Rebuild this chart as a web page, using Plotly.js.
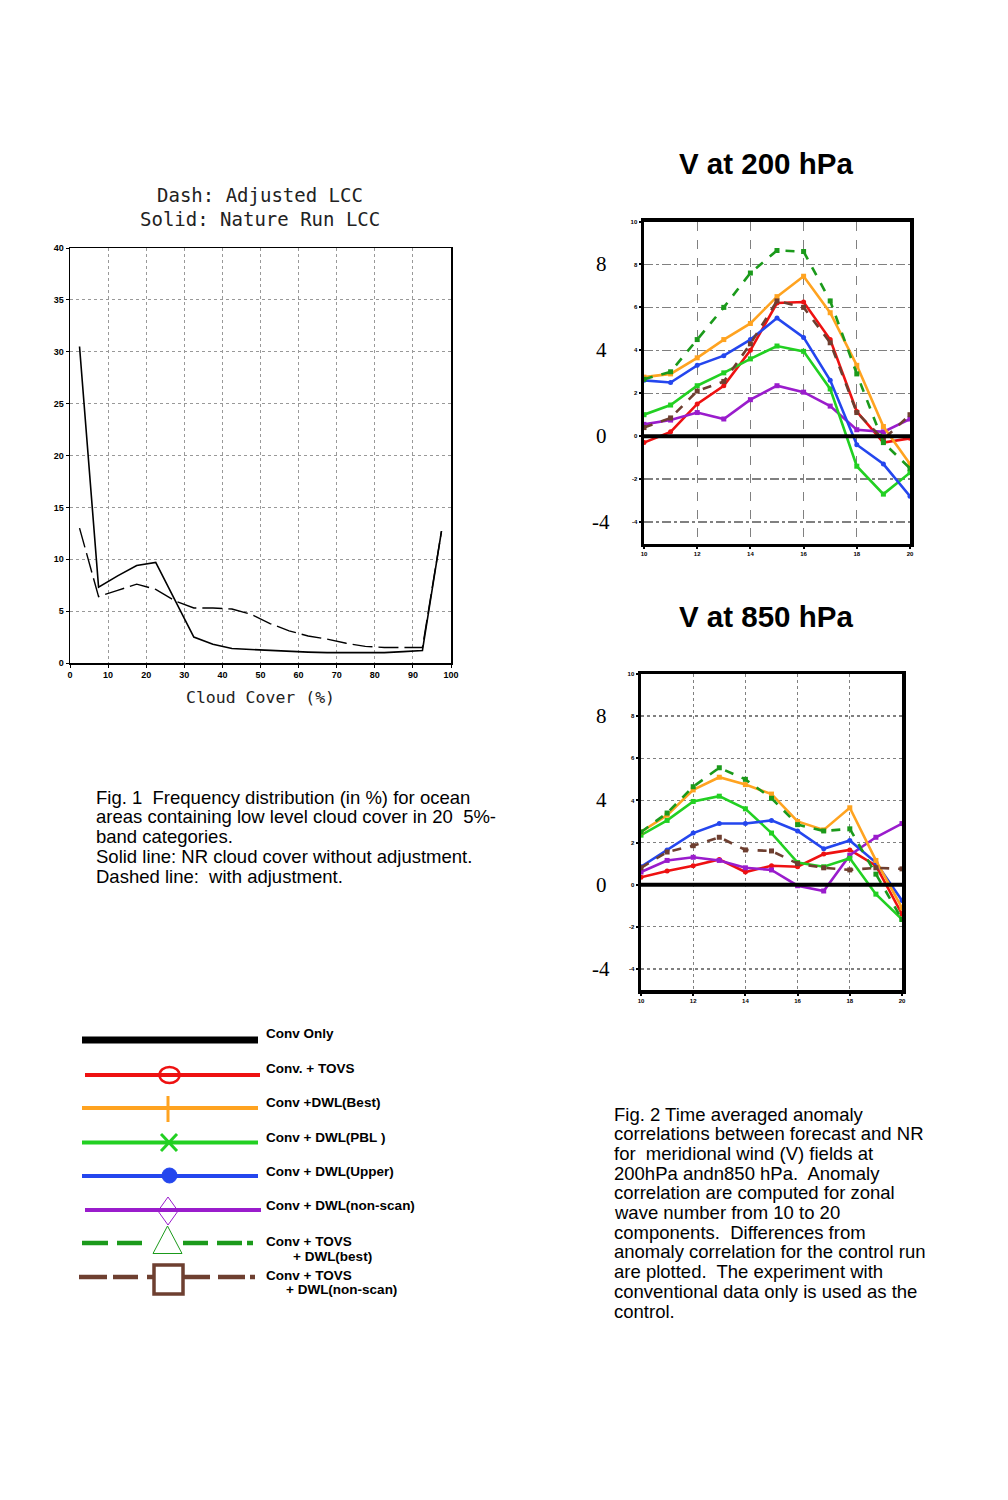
<!DOCTYPE html>
<html><head><meta charset="utf-8">
<script src="https://cdn.plot.ly/plotly-3.0.1.min.js"></script>
<style>html,body{margin:0;padding:0;background:#fff}#chart{width:1008px;height:1500px}</style>
</head><body><div id="chart"></div>
<script>
// ---------- Fig. 1 data ----------
const cloudBins = [2.5,7.5,12.5,17.5,22.5,27.5,32.5,37.5,42.5,47.5,52.5,57.5,62.5,67.5,72.5,77.5,82.5,87.5,92.5,97.5];
const natureRunLcc = [30.5,7.3,8.4,9.4,9.7,6.1,2.5,1.8,1.4,1.3,1.2,1.1,1.05,1.0,1.0,0.95,1.0,1.1,1.2,12.7];
const adjustedLcc  = [13.0,6.4,7.0,7.6,7.1,6.0,5.3,5.3,5.2,4.7,3.8,3.1,2.6,2.3,1.9,1.6,1.5,1.5,1.5,12.7];
const cloudTicks = [0,10,20,30,40,50,60,70,80,90,100];
const freqTicks = [0,5,10,15,20,25,30,35,40];

// ---------- Fig. 2 data ----------
const waveNumbers = [10,11,12,13,14,15,16,17,18,19,20];
const waveTicks = [10,12,14,16,18,20];
const corrTicks = [-4,-2,0,2,4,6,8,10];
const corrBigLabels = [8,4,0,-4];

const convOnly200       = [0,0,0,0,0,0,0,0,0,0,0];
const tovs200           = [-0.3,0.2,1.5,2.35,4.0,6.2,6.25,4.5,1.15,-0.3,-0.1];
const dwlBest200        = [2.75,2.9,3.65,4.5,5.25,6.5,7.45,5.75,3.3,0.45,-1.3];
const dwlPbl200         = [1.0,1.45,2.35,2.95,3.6,4.2,3.95,2.2,-1.4,-2.7,-1.7];
const dwlUpper200       = [2.6,2.5,3.3,3.75,4.5,5.5,4.6,2.6,-0.4,-1.3,-2.8];
const dwlNonscan200     = [0.55,0.75,1.1,0.8,1.7,2.35,2.05,1.4,0.3,0.2,0.8];
const tovsDwlBest200    = [2.65,3.0,4.5,6.0,7.6,8.65,8.6,6.3,2.9,-0.3,-1.5];
const tovsDwlNonscan200 = [0.4,0.85,2.1,2.55,4.3,6.3,6.0,4.35,1.1,-0.15,1.0];

const convOnly850       = [0,0,0,0,0,0,0,0,0,0,0];
const tovs850           = [0.35,0.65,0.9,1.2,0.6,0.9,0.85,1.45,1.65,0.9,-1.4];
const dwlBest850        = [2.5,3.3,4.5,5.1,4.75,4.3,3.0,2.6,3.65,1.15,-1.1];
const dwlPbl850         = [2.35,3.05,3.95,4.2,3.6,2.45,1.05,0.85,1.25,-0.45,-1.65];
const dwlUpper850       = [0.85,1.65,2.45,2.9,2.9,3.05,2.55,1.7,2.1,1.05,-0.75];
const dwlNonscan850     = [0.6,1.15,1.3,1.15,0.8,0.7,-0.05,-0.3,1.4,2.25,2.9];
const tovsDwlBest850    = [2.5,3.4,4.65,5.55,5.0,4.1,2.85,2.55,2.65,0.5,-1.65];
const tovsDwlNonscan850 = [0.8,1.55,1.85,2.25,1.65,1.6,1.0,0.8,0.7,0.8,0.75];

const legendLabels = ["Conv Only","Conv. + TOVS","Conv +DWL(Best)","Conv + DWL(PBL )","Conv + DWL(Upper)","Conv + DWL(non-scan)","Conv + TOVS","Conv + TOVS"];
const legendSubLabels = ["+ DWL(best)","+ DWL(non-scan)"];

const fig1Caption = ["Fig. 1  Frequency distribution (in %) for ocean","areas containing low level cloud cover in 20  5%-","band categories.","Solid line: NR cloud cover without adjustment.","Dashed line:  with adjustment."];
const fig2Caption = ["Fig. 2 Time averaged anomaly","correlations between forecast and NR","for  meridional wind (V) fields at","200hPa andn850 hPa.  Anomaly","correlation are computed for zonal","wave number from 10 to 20","components.  Differences from","anomaly correlation for the control run","are plotted.  The experiment with","conventional data only is used as the","control."];

// ---------- styling ----------
const W = 1008, H = 1500;
const px = v => v / W;
const py = v => 1 - v / H;
const C = {black:'#000000', red:'#ee1111', orange:'#ffa320', green:'#22d022', blue:'#2446ee', purple:'#9a1ccc', dgreen:'#1b9a1b', brown:'#6e3f30'};
const ARIAL = 'Liberation Sans, Arial, sans-serif';
const MONO = 'DejaVu Sans Mono, monospace';
const SERIF = 'Liberation Serif, Times New Roman, serif';

const series = [
  {k:'tovs', c:C.red, dash:'solid', sym:'circle'},
  {k:'dwlNonscan', c:C.purple, dash:'solid', sym:'square'},
  {k:'dwlPbl', c:C.green, dash:'solid', sym:'square'},
  {k:'dwlUpper', c:C.blue, dash:'solid', sym:'circle'},
  {k:'dwlBest', c:C.orange, dash:'solid', sym:'square'},
  {k:'tovsDwlNonscan', c:C.brown, dash:'dash', sym:'square'},
  {k:'tovsDwlBest', c:C.dgreen, dash:'dash', sym:'square'}
];
const data200 = {tovs:tovs200, dwlBest:dwlBest200, dwlPbl:dwlPbl200, dwlUpper:dwlUpper200, dwlNonscan:dwlNonscan200, tovsDwlBest:tovsDwlBest200, tovsDwlNonscan:tovsDwlNonscan200};
const data850 = {tovs:tovs850, dwlBest:dwlBest850, dwlPbl:dwlPbl850, dwlUpper:dwlUpper850, dwlNonscan:dwlNonscan850, tovsDwlBest:tovsDwlBest850, tovsDwlNonscan:tovsDwlNonscan850};

const traces = [];
traces.push({x:cloudBins, y:adjustedLcc, xaxis:'x', yaxis:'y', mode:'lines', line:{color:'#000', width:1.4, dash:'20px,6px'}, hoverinfo:'skip'});
traces.push({x:cloudBins, y:natureRunLcc, xaxis:'x', yaxis:'y', mode:'lines', line:{color:'#000', width:1.6}, hoverinfo:'skip'});

function addPanel(d, conv, xa, ya) {
  series.forEach(s => {
    traces.push({x:waveNumbers, y:d[s.k], xaxis:xa, yaxis:ya, mode:'lines+markers',
      line:{color:s.c, width:2.6, dash:s.dash}, marker:{color:s.c, size:5, symbol:s.sym}, hoverinfo:'skip'});
  });
  traces.push({x:waveNumbers, y:conv, xaxis:xa, yaxis:ya, mode:'lines', line:{color:'#000', width:4}, hoverinfo:'skip'});
}
addPanel(data200, convOnly200, 'x2', 'y2');
addPanel(data850, convOnly850, 'x3', 'y3');

const tinyFont = {family:ARIAL, size:6, color:'#000', weight:'bold'};
function waveX(dom, anchor, gdash) {
  return {domain:dom, anchor:anchor, range:[10,20], tickvals:waveTicks, ticktext:waveTicks.map(String),
    tickfont:tinyFont, ticks:'outside', ticklen:2, tickwidth:2, tickcolor:'#000',
    showline:true, linewidth:3.5, linecolor:'#000', mirror:true, zeroline:false,
    showgrid:true, gridcolor:'#808080', gridwidth:1.3, griddash:gdash, fixedrange:true};
}
function corrY(dom, anchor, gdash) {
  return {domain:dom, anchor:anchor, range:[-5,10], tickvals:corrTicks, ticktext:corrTicks.map(String),
    tickfont:tinyFont, ticks:'outside', ticklen:2, tickwidth:2, tickcolor:'#000',
    showline:true, linewidth:3.5, linecolor:'#000', mirror:true, zeroline:false,
    showgrid:true, gridcolor:'#808080', gridwidth:1.3, griddash:gdash, fixedrange:true};
}

const annotations = [];
const A = (x, y, text, font, opts) => annotations.push(Object.assign({xref:'paper', yref:'paper', x:px(x), y:py(y), text:text, showarrow:false, font:font, xanchor:'center', yanchor:'middle'}, opts||{}));

// Fig.1 titles
A(260, 195, 'Dash: Adjusted LCC', {family:MONO, size:19, color:'#222'});
A(260, 219, 'Solid: Nature Run LCC', {family:MONO, size:19, color:'#222'});
A(260, 697, 'Cloud Cover (%)', {family:MONO, size:16.5, color:'#222'});
// Fig.2 titles
A(766, 163, 'V at 200 hPa', {family:ARIAL, size:29.5, color:'#000', weight:'bold'});
A(766, 616, 'V at 850 hPa', {family:ARIAL, size:29.5, color:'#000', weight:'bold'});
corrBigLabels.forEach(v => {
  annotations.push({xref:'paper', yref:'y2', x:px(601), y:v, text:String(v), showarrow:false, xanchor:'center', yanchor:'middle', font:{family:SERIF, size:21, color:'#000'}});
  annotations.push({xref:'paper', yref:'y3', x:px(601), y:v, text:String(v), showarrow:false, xanchor:'center', yanchor:'middle', font:{family:SERIF, size:21, color:'#000'}});
});
// captions
const capFont = {family:ARIAL, size:18.5, color:'#000'};
fig1Caption.forEach((t, i) => A(94, 797 + i*19.8, t, capFont, {xanchor:'left'}));
fig2Caption.forEach((t, i) => A(612, 1114 + i*19.7, t, capFont, {xanchor:'left'}));

// legend text
const legFont = {family:ARIAL, size:13.5, color:'#000', weight:'bold'};
const legY = [1033, 1068, 1102, 1137, 1171, 1205, 1241, 1275];
legendLabels.forEach((t, i) => A(264, legY[i], t, legFont, {xanchor:'left'}));
A(291, 1256, legendSubLabels[0], legFont, {xanchor:'left'});
A(284, 1289, legendSubLabels[1], legFont, {xanchor:'left'});

// legend glyph shapes
const shapes = [];
const L = (x0, y0, x1, y1, color, width) => shapes.push({type:'line', xref:'paper', yref:'paper', x0:px(x0), y0:py(y0), x1:px(x1), y1:py(y1), line:{color:color, width:width}});
L(82, 1040, 258, 1040, C.black, 7);
L(85, 1075, 260, 1075, C.red, 4);
shapes.push({type:'circle', xref:'paper', yref:'paper', x0:px(159.5), x1:px(179.5), y0:py(1067), y1:py(1083), line:{color:C.red, width:2.5}});
L(82, 1108, 258, 1108, C.orange, 4);
L(168, 1096, 168, 1122, C.orange, 3);
L(82, 1142.5, 258, 1142.5, C.green, 4);
L(161, 1134, 177, 1151, C.green, 3);
L(161, 1151, 177, 1134, C.green, 3);
L(82, 1176, 258, 1176, C.blue, 4);
shapes.push({type:'circle', xref:'paper', yref:'paper', x0:px(162), x1:px(177), y0:py(1168), y1:py(1183), fillcolor:C.blue, line:{color:C.blue, width:1}});
L(85, 1210, 261, 1210, C.purple, 4);
shapes.push({type:'path', xref:'paper', yref:'paper', path:`M ${px(168)} ${py(1197)} L ${px(178)} ${py(1211)} L ${px(168)} ${py(1225)} L ${px(158)} ${py(1211)} Z`, line:{color:C.purple, width:1}});
[[82,108],[117,142],[183,208],[217,242],[247,253]].forEach(s => L(s[0], 1243, s[1], 1243, C.dgreen, 4.5));
shapes.push({type:'path', xref:'paper', yref:'paper', path:`M ${px(167.5)} ${py(1226)} L ${px(182)} ${py(1253.5)} L ${px(153)} ${py(1253.5)} Z`, line:{color:C.dgreen, width:1}});
[[79,107],[113,138],[147,154],[184,210],[218,245],[250,255]].forEach(s => L(s[0], 1277, s[1], 1277, C.brown, 4.5));
shapes.push({type:'rect', xref:'paper', yref:'paper', x0:px(154), x1:px(183), y0:py(1265), y1:py(1294), line:{color:C.brown, width:3.5}});

const layout = {
  width:W, height:H, margin:{l:0, r:0, t:0, b:0}, paper_bgcolor:'#fff', plot_bgcolor:'#fff', showlegend:false,
  xaxis:{domain:[px(70), px(451)], anchor:'y', range:[0,100], tickvals:cloudTicks, ticktext:cloudTicks.map(String),
    tickfont:{family:ARIAL, size:9, color:'#000', weight:'bold'}, ticks:'outside', ticklen:3, tickcolor:'#000',
    showline:true, linewidth:1.5, linecolor:'#000', mirror:true, zeroline:false,
    showgrid:true, gridcolor:'#999', gridwidth:1, griddash:'dot', fixedrange:true},
  yaxis:{domain:[py(663), py(248)], anchor:'x', range:[0,40], tickvals:freqTicks, ticktext:freqTicks.map(String),
    tickfont:{family:ARIAL, size:9, color:'#000', weight:'bold'}, ticks:'outside', ticklen:3, tickcolor:'#000',
    showline:true, linewidth:1.5, linecolor:'#000', mirror:true, zeroline:false,
    showgrid:true, gridcolor:'#999', gridwidth:1, griddash:'dot', fixedrange:true},
  xaxis2: waveX([px(644), px(910)], 'y2', 'dash'),
  yaxis2: corrY([py(543.5), py(221.5)], 'x2', 'dashdot'),
  xaxis3: waveX([px(641), px(902)], 'y3', 'dot'),
  yaxis3: corrY([py(990), py(674)], 'x3', 'dot'),
  annotations: annotations,
  shapes: shapes
};
Plotly.newPlot('chart', traces, layout, {staticPlot:true, displayModeBar:false});
</script>
</body></html>
